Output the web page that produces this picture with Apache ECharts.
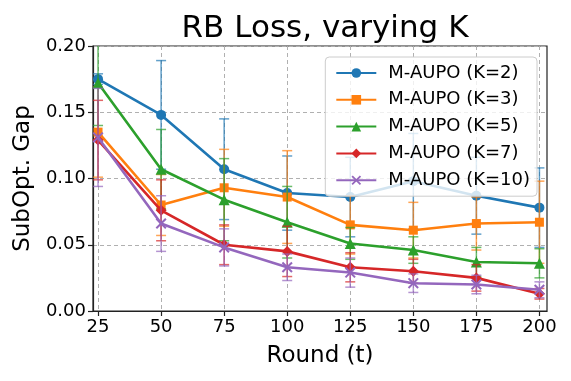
<!DOCTYPE html>
<html>
<head>
<meta charset="utf-8">
<script src="https://cdn.jsdelivr.net/npm/echarts@6/dist/echarts.min.js"></script>
<style>
html,body{margin:0;padding:0;background:#fff;}
#chart{width:571px;height:381px;}
</style>
</head>
<body>
<div id="chart"></div>
<script>
// ---- data ----
const rounds = [25, 50, 75, 100, 125, 150, 175, 200];
const yTicks = [0, 0.05, 0.10, 0.15, 0.20];
const seriesNames = ['M-AUPO (K=2)', 'M-AUPO (K=3)', 'M-AUPO (K=5)', 'M-AUPO (K=7)', 'M-AUPO (K=10)'];
const k2 = [0.175, 0.148, 0.107, 0.089, 0.086, 0.098, 0.087, 0.078];
const k2err = [0.004, 0.041, 0.038, 0.028, 0.030, 0.036, 0.029, 0.030];
const k3 = [0.135, 0.080, 0.093, 0.086, 0.065, 0.061, 0.066, 0.067];
const k3err = [0.034, 0.023, 0.029, 0.035, 0.022, 0.021, 0.020, 0.031];
const k5 = [0.172, 0.107, 0.084, 0.067, 0.051, 0.046, 0.037, 0.036];
const k5err = [0.032, 0.030, 0.031, 0.027, 0.012, 0.010, 0.011, 0.011];
const k7 = [0.129, 0.076, 0.050, 0.045, 0.033, 0.030, 0.025, 0.013];
const k7err = [0.030, 0.023, 0.015, 0.019, 0.011, 0.009, 0.010, 0.004];
const k10 = [0.131, 0.066, 0.048, 0.033, 0.029, 0.021, 0.020, 0.016];
const k10err = [0.037, 0.021, 0.014, 0.010, 0.011, 0.007, 0.007, 0.006];

const means = [k2, k3, k5, k7, k10];
const errs = [k2err, k3err, k5err, k7err, k10err];
const colors = ['#1f77b4', '#ff7f0e', '#2ca02c', '#d62728', '#9467bd'];
const xPath = 'path://M0,1.3 L1.3,0 L5,3.7 L8.7,0 L10,1.3 L6.3,5 L10,8.7 L8.7,10 L5,6.3 L1.3,10 L0,8.7 L3.7,5 Z';
const symbols = ['circle', 'rect', 'triangle', 'diamond', xPath];
const symSizes = [10, 9, 11, 11, 11];
const FONT = 'DejaVu Sans';
const YMAX = 0.2, YMIN = 0;

function errRender(color) {
  return function (params, api) {
    const x = api.value(0);
    let lo = api.value(1), hi = api.value(2);
    const topClip = hi > YMAX, botClip = lo < YMIN;
    hi = Math.min(hi, YMAX); lo = Math.max(lo, YMIN);
    const p1 = api.coord([x, hi]);
    const p2 = api.coord([x, lo]);
    const w = 5;
    const st = { stroke: color, lineWidth: 1.5, opacity: 0.7 };
    const ch = [{ type: 'line', shape: { x1: p1[0], y1: p1[1], x2: p2[0], y2: p2[1] }, style: st }];
    if (!topClip) ch.push({ type: 'line', shape: { x1: p1[0] - w, y1: p1[1], x2: p1[0] + w, y2: p1[1] }, style: st });
    if (!botClip) ch.push({ type: 'line', shape: { x1: p2[0] - w, y1: p2[1], x2: p2[0] + w, y2: p2[1] }, style: st });
    return { type: 'group', children: ch };
  };
}

const series = [];
means.forEach((m, i) => {
  series.push({
    type: 'custom',
    name: 'err' + i,
    renderItem: errRender(colors[i]),
    data: rounds.map((r, j) => [r, m[j] - errs[i][j], m[j] + errs[i][j]]),
    z: 2 + i * 2,
    silent: true,
    encode: { x: 0, y: [1, 2] }
  });
  series.push({
    type: 'line',
    name: seriesNames[i],
    data: rounds.map((r, j) => [r, m[j]]),
    symbol: symbols[i],
    symbolSize: symSizes[i],
    showAllSymbol: true,
    color: colors[i],
    lineStyle: { width: 2.6, color: colors[i] },
    itemStyle: { color: colors[i] },
    z: 3 + i * 2,
    animation: false
  });
});

const chart = echarts.init(document.getElementById('chart'), null, { renderer: 'canvas' });
chart.setOption({
  animation: false,
  backgroundColor: '#ffffff',
  textStyle: { fontFamily: FONT },
  title: {
    text: 'RB Loss, varying K',
    left: 320,
    textAlign: 'center',
    top: 8,
    textStyle: { fontFamily: FONT, fontSize: 31, fontWeight: 'normal', color: '#000' }
  },
  grid: { left: 93, right: 24, top: 46, bottom: 70, show: true, borderColor: '#222', borderWidth: 1.2, backgroundColor: 'transparent' },
  legend: {
    data: seriesNames,
    orient: 'vertical',
    right: 34,
    top: 57,
    z: 30,
    padding: [5, 7, 5, 10],
    itemWidth: 40,
    itemHeight: 12,
    itemGap: 4.8,
    backgroundColor: 'rgba(255,255,255,0.8)',
    borderColor: '#cccccc',
    borderWidth: 1,
    borderRadius: 4,
    textStyle: { fontFamily: FONT, fontSize: 18, color: '#000', lineHeight: 22, padding: [0, 0, 0, 7] }
  },
  xAxis: {
    type: 'value',
    min: 23,
    max: 203,
    name: 'Round (t)',
    nameLocation: 'middle',
    nameGap: 34,
    nameTextStyle: { fontFamily: FONT, fontSize: 23, color: '#000' },
    axisLine: { onZero: false, lineStyle: { color: '#222', width: 1.2 } },
    axisTick: { customValues: rounds, length: 5, lineStyle: { color: '#222', width: 1.2 } },
    axisLabel: { customValues: rounds, fontFamily: FONT, fontSize: 18, color: '#000', margin: 7 },
    splitLine: { show: true, lineStyle: { type: [4, 3], color: '#b0b0b0', width: 1 } }
  },
  yAxis: {
    type: 'value',
    min: YMIN,
    max: YMAX,
    interval: 0.05,
    name: 'SubOpt. Gap',
    nameLocation: 'middle',
    nameGap: 58,
    nameRotate: 90,
    nameTextStyle: { fontFamily: FONT, fontSize: 23, color: '#000' },
    axisLine: { show: true, lineStyle: { color: '#222', width: 1.2 } },
    axisTick: { show: true, length: 5, lineStyle: { color: '#222', width: 1.2 } },
    axisLabel: { fontFamily: FONT, fontSize: 18, color: '#000', margin: 7, formatter: v => v.toFixed(2) },
    splitLine: { show: true, lineStyle: { type: [4, 3], color: '#b0b0b0', width: 1 } }
  },
  series: series
});
</script>
</body>
</html>
